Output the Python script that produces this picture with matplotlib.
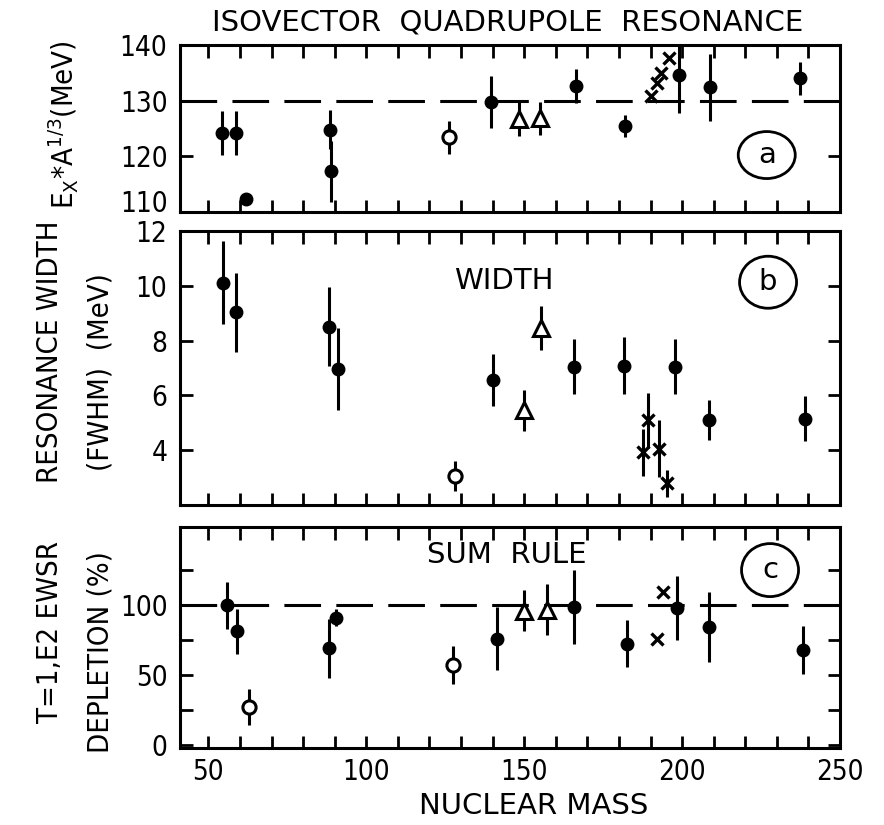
import matplotlib
matplotlib.use("Agg")
import matplotlib.pyplot as plt
from matplotlib.patches import Ellipse

plt.rcParams['font.family'] = ['DejaVu Sans']

# ---------------- data ----------------
# (a) E_x * A^1/3
a_fill_x = [54.3, 58.7, 62.0, 88.4, 88.7, 139.5, 166.4, 181.9, 199.0, 208.9, 237.4]
a_fill_y = [124.2, 124.2, 112.4, 124.8, 117.3, 129.8, 132.6, 125.4, 134.7, 132.4, 134.0]
a_fill_err = [4.0, 4.0, 0.0, 3.5, 5.5, 4.7, 3.0, 2.0, 7.0, 6.0, 3.0]
a_open_x = [126.1]
a_open_y = [123.4]
a_open_err = [3.0]
a_tri_x = [148.3, 154.9]
a_tri_y = [126.7, 126.8]
a_tri_err = [3.0, 3.0]
a_cross_x = [190.3, 192.1, 193.4, 195.8]
a_cross_y = [130.8, 133.1, 135.0, 137.6]

# (b) width
b_fill_x = [54.5, 58.7, 88.1, 91.0, 140.0, 165.9, 181.7, 197.9, 208.4, 238.8]
b_fill_y = [10.12, 9.03, 8.51, 6.97, 6.55, 7.05, 7.09, 7.05, 5.12, 5.15]
b_fill_err = [1.5, 1.45, 1.45, 1.5, 0.95, 1.0, 1.05, 1.0, 0.73, 0.82]
b_open_x = [128.0]
b_open_y = [3.05]
b_open_err = [0.55]
b_tri_x = [150.0, 155.2]
b_tri_y = [5.45, 8.46]
b_tri_err = [0.75, 0.8]
b_cross_x = [187.7, 189.3, 192.7, 195.1]
b_cross_y = [3.92, 5.09, 4.06, 2.79]
b_cross_err = [0.87, 1.0, 1.05, 0.5]

# (c) sum rule depletion
c_fill_x = [55.9, 59.2, 88.1, 90.5, 141.3, 165.7, 182.7, 198.4, 208.6, 238.2]
c_fill_y = [100.0, 81.5, 69.2, 91.2, 76.1, 98.6, 72.6, 98.1, 84.2, 68.0]
c_fill_err = [17, 16, 21, 6, 22.5, 26.6, 17, 23, 25, 17]
c_open_x = [62.9, 127.4]
c_open_y = [27.5, 57.2]
c_open_err = [12.7, 13.5]
c_tri_x = [149.8, 157.1]
c_tri_y = [96.3, 97.0]
c_tri_err = [15, 18]
c_cross_x = [191.9, 193.9]
c_cross_y = [75.7, 109.7]

x_ticks = list(range(50, 260, 10))
x_labels = [str(v) if v % 50 == 0 else '' for v in x_ticks]

W, H = 884, 825
fig = plt.figure(figsize=(W / 100, H / 100), dpi=100)


def px_axes(left, top, right, bottom):
    return fig.add_axes([left / W, 1 - bottom / H, (right - left) / W, (bottom - top) / H])


ax_a = px_axes(180, 45, 840, 212)
ax_b = px_axes(180, 231, 840, 505)
ax_c = px_axes(180, 527, 840, 748)

EW = 2.2   # error bar width
TICK_FS = 20
LAB_FS = 21


def draw(ax, fx, fy, fe, ox, oy, oe, tx, ty, te, cx, cy, ce=None):
    for x, y, e in ((fx, fy, fe), (ox, oy, oe), (tx, ty, te), (cx, cy, ce)):
        if e is not None:
            ax.errorbar(x, y, yerr=e, fmt='none', ecolor='black', elinewidth=EW, capsize=0, zorder=2)
    ax.plot(fx, fy, 'o', color='black', ms=9, zorder=4)
    ax.plot(ox, oy, 'o', mfc='white', mec='black', mew=2.2, ms=9.5, zorder=4)
    ax.plot(tx, ty, '^', mfc='white', mec='black', mew=2.2, ms=11, zorder=4)
    ax.plot(cx, cy, 'x', color='black', mew=2.4, ms=8, zorder=4)


draw(ax_a, a_fill_x, a_fill_y, a_fill_err, a_open_x, a_open_y, a_open_err,
     a_tri_x, a_tri_y, a_tri_err, a_cross_x, a_cross_y)
draw(ax_b, b_fill_x, b_fill_y, b_fill_err, b_open_x, b_open_y, b_open_err,
     b_tri_x, b_tri_y, b_tri_err, b_cross_x, b_cross_y, b_cross_err)
draw(ax_c, c_fill_x, c_fill_y, c_fill_err, c_open_x, c_open_y, c_open_err,
     c_tri_x, c_tri_y, c_tri_err, c_cross_x, c_cross_y)

ax_a.axhline(130, color='black', lw=2.2, dashes=(12, 5), zorder=1)
ax_c.axhline(100, color='black', lw=2.2, dashes=(12, 5), zorder=1)

ax_a.set_ylim(110, 140)
ax_a.set_yticks([110, 120, 130, 140])
ax_b.set_ylim(2, 12)
ax_b.set_yticks([4, 6, 8, 10, 12])
ax_c.set_ylim(-2, 156)
ax_c.set_yticks([0, 25, 50, 75, 100, 125])
ax_c.set_yticklabels(['0', '', '50', '', '100', ''])

for ax in (ax_a, ax_b, ax_c):
    ax.set_xlim(41, 250)
    ax.set_xticks(x_ticks)
    ax.tick_params(direction='in', top=True, right=True, length=9, width=2,
                   labelsize=TICK_FS, pad=9)
    for s in ax.spines.values():
        s.set_linewidth(2.2)
    for t in ax.get_xticklabels() + ax.get_yticklabels():
        t.set_fontstretch('condensed')
ax_a.tick_params(labelbottom=False)
ax_b.tick_params(labelbottom=False)
ax_c.set_xticklabels(x_labels, fontstretch='condensed')
ax_c.tick_params(axis='x', pad=7)
ax_a.get_yticklabels()[0].set_va('baseline')

# circled panel letters
for ax, lab, cx, cy, hpx in ((ax_a, 'a', 0.889, 0.341, 47), (ax_b, 'b', 0.891, 0.813, 52),
                             (ax_c, 'c', 0.894, 0.805, 53)):
    bb = ax.get_position()
    ax.add_patch(Ellipse((cx, cy), 57 / (bb.width * W), hpx / (bb.height * H),
                         transform=ax.transAxes, fill=False, lw=2, ec='black'))
    ax.text(cx, cy, lab, transform=ax.transAxes, ha='center', va='center', fontsize=LAB_FS)

ax_b.text(0.49, 0.817, 'WIDTH', transform=ax_b.transAxes, ha='center', va='center', fontsize=LAB_FS)
ax_c.text(0.495, 0.872, 'SUM  RULE', transform=ax_c.transAxes, ha='center', va='center', fontsize=LAB_FS)

fig.text(508 / W, 1 - 22 / H, 'ISOVECTOR  QUADRUPOLE  RESONANCE', ha='center', va='center', fontsize=LAB_FS)
fig.text(534 / W, 1 - 806 / H, 'NUCLEAR MASS', ha='center', va='center', fontsize=21)

# y labels
ylab = dict(rotation=90, ha='center', va='center', fontsize=21, fontstretch='condensed')
fig.text(64 / W, 1 - 125 / H, r'E$_{\mathregular{X}}$*A$^{\mathregular{1/3}}$(MeV)', **ylab)
fig.text(50 / W, 1 - 352 / H, 'RESONANCE WIDTH', **ylab)
fig.text(100 / W, 1 - 372 / H, '(FWHM)  (MeV)', **ylab)
fig.text(50 / W, 1 - 632 / H, 'T=1,E2 EWSR', **ylab)
fig.text(100 / W, 1 - 652 / H, 'DEPLETION (%)', **ylab)

fig.savefig('out.png', dpi=100)
